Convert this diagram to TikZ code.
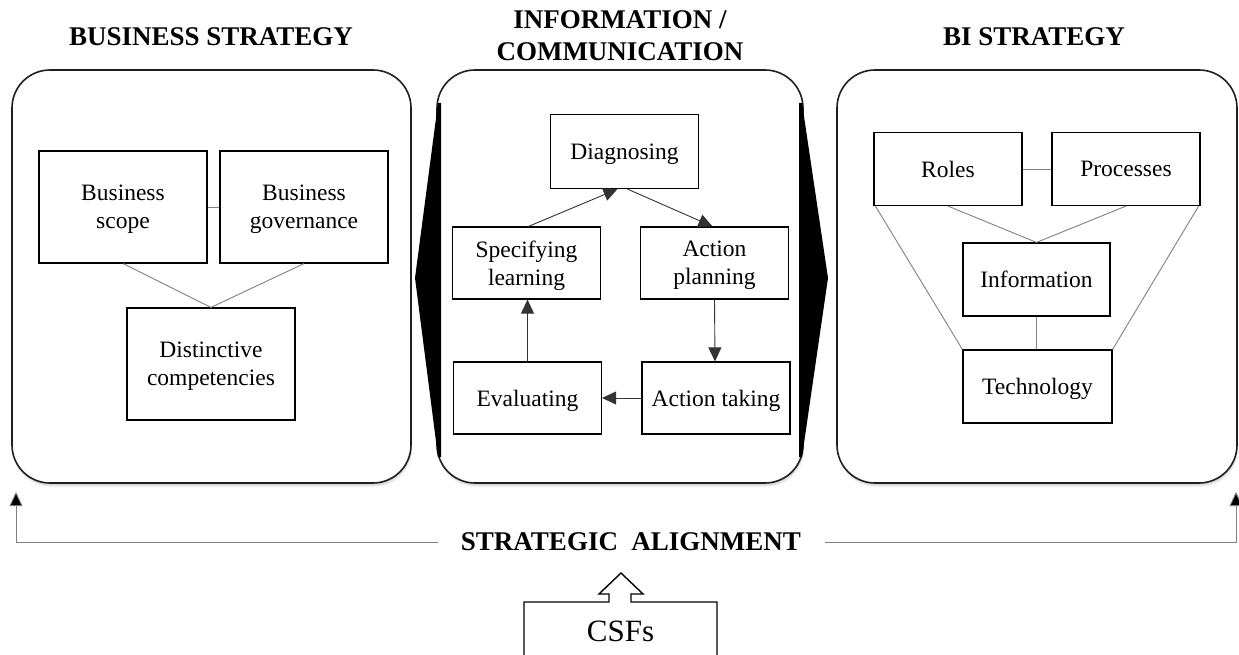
\documentclass[tikz,border=0pt]{standalone}
\usepackage{fontspec}
\setmainfont{Liberation Serif}
\usetikzlibrary{arrows.meta}
\newcommand\bodyfont{\fontsize{23.5pt}{28pt}\selectfont}
\newcommand\headfont{\fontsize{27pt}{32pt}\selectfont\bfseries}
\definecolor{linkgray}{HTML}{808080}
\begin{document}
\begin{tikzpicture}[x=1pt,y=-1pt,
  panel/.style={draw=black!88, line width=1.6pt, rounded corners=38pt, fill=white},
  panelshade/.style={fill=black, opacity=0.05, rounded corners=38pt},
  box/.style={draw=black, line width=1.2pt, fill=white, inner sep=0pt,
              align=center, font=\bodyfont, text depth=0pt, minimum height=73pt},
  bigbox/.style={box, minimum width=168pt, minimum height=112pt},
  cbox/.style={box, minimum width=148pt},
  title/.style={align=center, font=\headfont, inner sep=0pt},
  link/.style={draw=linkgray, line width=0.9pt},
  flow/.style={draw=black!80, line width=0.9pt, -{Triangle[length=14pt,width=13pt]}},
  align arrow/.style={draw=linkgray, line width=0.9pt, -{Triangle[length=14pt,width=13pt,fill=black]}},
  wedge/.style={fill=black}
]
\useasboundingbox (0,0) rectangle (1239,655);
\clip (0,0) rectangle (1239,655);

% soft shadows under the three panels
\foreach \xa/\xb in {12/411, 437/803, 837/1237}{
  \foreach \s in {1,2,3,4}{
    \fill[panelshade] (\xa+\s*0.3,70+\s) rectangle (\xb+\s*0.3,483+\s);
  }
}

% the three panels
\draw[panel] (12,70) rectangle (411,483);
\draw[panel] (437,70) rectangle (803,483);
\draw[panel] (837,70) rectangle (1237,483);

% black wedges on both sides of the middle panel
\coordinate (wl1) at (438,103);
\coordinate (wltip) at (415,278);
\coordinate (wl2) at (438,457);
\coordinate (wr1) at (802,103);
\coordinate (wrtip) at (828,278);
\coordinate (wr2) at (802,457);
\fill[wedge] (wl1) -- (wltip) -- (wl2) -- ([xshift=3pt]wl2) -- ([xshift=3pt]wl1) -- cycle;
\fill[wedge] (wr1) -- (wrtip) -- (wr2) -- ([xshift=-3pt]wr2) -- ([xshift=-3pt]wr1) -- cycle;

% headings
\node[title] (tbus) at (211,37) {BUSINESS STRATEGY};
\node[title] (tinfo) at (620,36) {INFORMATION /\\COMMUNICATION};
\node[title] (tbi) at (1034,37) {BI STRATEGY};

% business strategy
\node[bigbox] (bscope) at (123,207) {Business\\scope};
\node[bigbox] (bgov) at (304,207) {Business\\governance};
\node[bigbox] (dcomp) at (211,364) {Distinctive\\competencies};
\draw[link] (bscope.east) -- (bgov.west);
\draw[link] (bscope.south) -- (dcomp.north);
\draw[link] (bgov.south) -- (dcomp.north);

% action research cycle
\node[cbox, minimum height=74pt] (diag) at (624.5,151.5) {Diagnosing};
\node[cbox, minimum height=72pt] (spec) at (526.5,263) {Specifying\\learning};
\node[cbox, minimum height=72pt] (aplan) at (714.5,263) {Action\\planning};
\node[cbox, minimum height=72pt] (eval) at (527.5,398) {Evaluating};
\node[cbox, minimum height=72pt] (atake) at (716,398) {Action taking};
\draw[flow] ([xshift=2pt]spec.north) -- ([xshift=-7pt]diag.south);
\draw[flow] ([xshift=3pt]diag.south) -- ([xshift=-2pt]aplan.north);
\draw[flow] (aplan.south) -- ([xshift=-1pt]atake.north);
\draw[flow] (atake.west) -- (eval.east);
\draw[flow] (eval.north) -- (eval.north |- spec.south);

% BI strategy
\node[cbox, minimum height=73pt] (roles) at (948,169) {Roles};
\node[cbox, minimum height=73pt] (proc) at (1126,169) {Processes};
\node[cbox, minimum width=147pt] (info) at (1036.5,279.5) {Information};
\node[cbox, minimum width=149pt] (tech) at (1037.5,386.5) {Technology};
\draw[link] (roles.east) -- (proc.west);
\draw[link] (roles.south) -- (info.north);
\draw[link] (proc.south) -- (info.north);
\draw[link] (info.south) -- (info.south |- tech.north);
\draw[link] ([xshift=2pt]roles.south west) -- (tech.north west);
\draw[link] ([xshift=-2pt]proc.south east) -- (tech.north east);

% strategic alignment
\node[font=\headfont, inner sep=0pt] (align) at (631,542) {STRATEGIC\hspace{0.5em}ALIGNMENT};
\coordinate (lend) at (438,542);
\coordinate (lcorner) at (16,542);
\coordinate (ltip) at (16,492);
\coordinate (rend) at (825,542);
\coordinate (rcorner) at (1236,542);
\coordinate (rtip) at (1236,492);
\draw[align arrow] (lend) -- (lcorner) -- (ltip);
\draw[align arrow] (rend) -- (rcorner) -- (rtip);

% critical success factors
\draw[line width=1.4pt, line join=miter] (524,656) -- (524,602) -- (609,602) -- (609,594)
  -- (599,594) -- (621,573) -- (643,594) -- (631,594) -- (631,602) -- (717,602) -- (717,656);
\node[font=\fontsize{31pt}{36pt}\selectfont, inner sep=0pt] (csf) at (620.5,631) {CSFs};
\end{tikzpicture}
\end{document}
